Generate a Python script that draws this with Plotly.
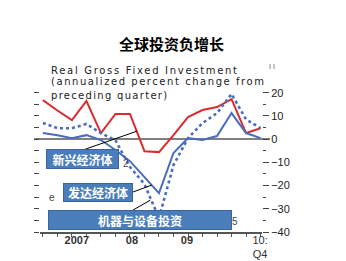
import plotly.graph_objects as go

quarters = ["2007Q1","2007Q2","2007Q3","2007Q4","2008Q1","2008Q2","2008Q3","2008Q4",
            "2009Q1","2009Q2","2009Q3","2009Q4","2010Q1","2010Q2","2010Q3","2010Q4"]
emerging = [16.8, 12.3, 8.2, 16.4, 2.6, 10.8, 10.8, -5.2, -5.6, 1.7, 9.5, 12.5, 13.8, 17.2, 2.6, 4.7]
advanced = [2.6, 1.7, 0.4, 1.7, -0.4, -4.7, -9.5, -16.4, -23.3, -6.0, 0.4, -0.4, 1.3, 11.2, 2.6, 0.4]
machinery = [6.9, 4.7, 4.7, 6.5, 2.6, -0.5, -12.0, -19.4, -34.0, -11.2, 0.4, 6.9, 11.2, 19.4, 8.5, 4.7]
year_tick_pos = [2.34, 6.14, 9.93, 14.97]
year_tick_text = ["<b>2007</b>", "<b>08</b>", "<b>09</b>", "10:<br>Q4"]
y_ticks = [20, 10, 0, -10, -20, -30, -40]

x = list(range(len(quarters)))

RED = "#dc2b2f"
BLUE = "#4a6cc0"
BOXFILL = "#4a7ebb"
BOXLINE = "#3a64a0"
TXT = "#222222"

fig = go.Figure()
fig.add_trace(go.Scatter(x=x, y=emerging, mode="lines", line=dict(color=RED, width=2),
                         name="新兴经济体", showlegend=False))
fig.add_trace(go.Scatter(x=x, y=advanced, mode="lines", line=dict(color=BLUE, width=2),
                         name="发达经济体", showlegend=False))
fig.add_trace(go.Scatter(x=x, y=machinery, mode="lines", line=dict(color=BLUE, width=2.6, dash="dot"),
                         name="机器与设备投资", showlegend=False))
fig.add_trace(go.Scatter(x=[0], y=[0], yaxis="y2", mode="markers", marker=dict(opacity=0),
                         showlegend=False, hoverinfo="skip"))
fig.add_trace(go.Scatter(x=[0], y=[0], xaxis="x2", mode="markers", marker=dict(opacity=0),
                         showlegend=False, hoverinfo="skip"))

L, R, T, B = 40, 262, 88, 232
W, H = 346, 261

def px(xp):
    return (xp - L) / (R - L)

def py(yp):
    return (B - yp) / (B - T)

fig.update_layout(
    width=W, height=H,
    margin=dict(l=L, r=W - R, t=T, b=H - B, autoexpand=False),
    paper_bgcolor="white", plot_bgcolor="white",
    xaxis=dict(range=[-0.2, 15.1], tickvals=x, ticktext=[""] * len(x), ticks="outside",
               ticklen=3, tickcolor="#555", showline=True, linecolor="#555", linewidth=1.5,
               showgrid=False, zeroline=False, fixedrange=True, automargin=False),
    xaxis2=dict(range=[-0.2, 15.1], overlaying="x", side="bottom", tickvals=year_tick_pos,
                ticktext=year_tick_text, ticks="", showline=False, showgrid=False, zeroline=False,
                tickfont=dict(family="Liberation Sans", size=11, color="#333"), automargin=False),
    yaxis=dict(range=[-40, 22], side="right", tickvals=y_ticks, ticks="outside", ticklen=6,
               tickcolor="#444", tickwidth=1.2, showline=False, showgrid=False, zeroline=False,
               tickfont=dict(family="Liberation Sans", size=11, color=TXT), automargin=False,
               minor=dict(tickvals=[15, 5, -5, -15, -25, -35], ticks="outside", ticklen=3,
                          tickcolor="#444")),
    yaxis2=dict(range=[-40, 22], overlaying="y", side="left", dtick=5, tick0=0, ticks="outside",
                ticklen=5, tickcolor="#444", showticklabels=False, showline=False,
                showgrid=False, zeroline=False, automargin=False),
)

shapes = [
    dict(type="line", xref="paper", yref="y", x0=px(34), x1=px(270), y0=0, y1=0,
         line=dict(color="#808080", width=2), layer="below"),
    dict(type="line", xref="x", yref="y", x0=2.76, y0=-4.7, x1=6.48, y1=3.4,
         line=dict(color="black", width=1)),
    dict(type="line", xref="x", yref="y", x0=6.2, y0=-22.8, x1=7.5, y1=-19.8,
         line=dict(color="black", width=1)),
    dict(type="line", xref="x", yref="y", x0=6.2, y0=-30.6, x1=7.4, y1=-26.3,
         line=dict(color="black", width=1)),
]
fig.update_layout(shapes=shapes)

anns = []
anns.append(dict(text="<b>全球投资负增长</b>", xref="paper", yref="paper", x=px(171), y=py(43),
                 xanchor="center", yanchor="middle", showarrow=False,
                 font=dict(family="Noto Sans CJK SC", size=15, color="black")))
for txt, yy, sp in [("Real Gross Fixed Investment", 70, 1.7),
                    ("(annualized percent change from", 82, 1.55),
                    ("preceding quarter)", 95, 1.3)]:
    anns.append(dict(text='<span style="letter-spacing:%spx">%s</span>' % (sp, txt),
                     xref="paper", yref="paper", x=px(49), y=py(yy), xanchor="left",
                     yanchor="middle", showarrow=False,
                     font=dict(family="DejaVu Sans", size=10, color=TXT)))
anns.append(dict(text="I I", xref="paper", yref="paper", x=px(272), y=py(66), xanchor="center",
                 yanchor="middle", showarrow=False,
                 font=dict(family="Liberation Sans", size=7, color="#555")))
for t, cx, cy in [("e", 52, 197), ("2", 126, 163), ("5", 235, 221)]:
    anns.append(dict(text=t, xref="paper", yref="paper", x=px(cx), y=py(cy), xanchor="center",
                     yanchor="middle", showarrow=False,
                     font=dict(family="Liberation Sans", size=10, color="#444")))

for txt, x0, x1, y0, y1 in [("新兴经济体", 46, 119, 149, 169), ("发达经济体", 63, 133, 183, 202),
                            ("机器与设备投资", 48, 232, 210, 230)]:
    anns.append(dict(text="<b>%s</b>" % txt, xref="paper", yref="paper",
                     x=px((x0 + x1) / 2), y=py((y0 + y1) / 2), xanchor="center", yanchor="middle",
                     width=x1 - x0 - 2, height=y1 - y0 - 2, align="center", valign="middle",
                     bgcolor=BOXFILL, bordercolor=BOXLINE, borderwidth=1, borderpad=0,
                     showarrow=False, font=dict(family="Noto Sans CJK SC", size=12, color="white")))
fig.update_layout(annotations=anns)

fig.write_html("out.html")
